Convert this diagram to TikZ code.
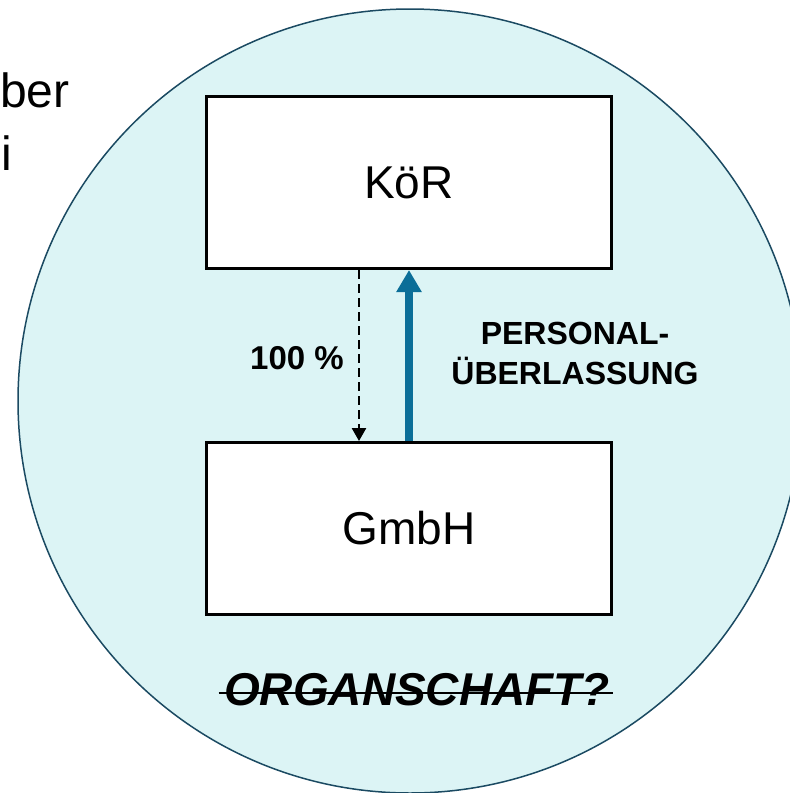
\documentclass[tikz,border=0pt]{standalone}
\usepackage{fontspec}
\setmainfont{Liberation Sans}
\usepackage{tikz}
\usetikzlibrary{arrows.meta}
\definecolor{bubble}{HTML}{DCF4F5}
\definecolor{bubbleline}{HTML}{1B4A62}
\definecolor{flowblue}{HTML}{0B6E98}

\begin{document}
\begin{tikzpicture}[x=1pt, y=-1pt,
        entity/.style={draw, line width=3pt, fill=white, minimum width=405pt,
            minimum height=172pt, inner sep=0pt, font=\fontsize{46}{55}\selectfont},
        tag/.style={font=\bfseries\fontsize{33}{40}\selectfont, align=center}]
        % Page frame
        \useasboundingbox (0, 0) rectangle (790, 793);
        \clip (0, 0) rectangle (790, 793);
        % Draw the circle
        \draw [fill=bubble, draw=bubbleline, line width=1.5pt] (410, 401) circle [radius=392pt];
        % Text running in from the left
        \node [anchor=base west, inner sep=0pt, font=\fontsize{48}{63}\selectfont] (ber) at (0, 107) {ber};
        \node [anchor=base west, inner sep=0pt, font=\fontsize{48}{63}\selectfont] (i) at (1, 170) {i};
        % Boxes
        \node [entity] (kor) at (409, 182.5) {KöR};
        \node [entity] (gmbh) at (409, 528.5) {GmbH};
        % Arrows
        \coordinate (dash) at (359, 0);
        \draw [line width=2.6pt, dash pattern=on 9pt off 5pt,
            -{Triangle[width=14pt, length=13pt]}] (kor.south -| dash) -- (gmbh.north -| dash);
        \draw [line width=8pt, flowblue, -{Triangle[width=24pt, length=22pt]}] (gmbh.north) -- (kor.south);
        % Labels
        \node [tag] (share) at (297, 358) {100 \%};
        \node [tag, font=\bfseries\fontsize{32}{40}\selectfont] (lending) at (575, 353) {PERSONAL-\\ÜBERLASSUNG};
        \node [anchor=base, font=\bfseries\itshape\fontsize{46}{55}\selectfont] (organ) at (417, 705) {ORGANSCHAFT?};
        \draw [line width=2pt] ([xshift=-2pt, yshift=12pt]organ.base west) -- ([yshift=12pt]organ.base east);
    \end{tikzpicture}
\end{document}
